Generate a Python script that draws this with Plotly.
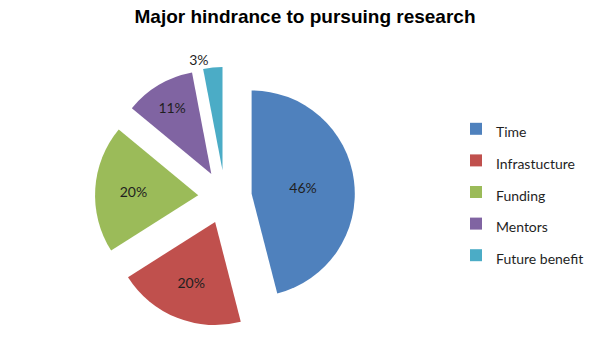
import plotly.graph_objects as go

categories = ["Time", "Infrastucture", "Funding", "Mentors", "Future benefit"]
values = [46, 20, 20, 11, 3]
colors = ["#4F81BD", "#C0504D", "#9BBB59", "#8064A2", "#4BACC6"]
pulls = [0.26, 0.26, 0.26, 0.26, 0.26]
text_positions = ["inside", "inside", "inside", "inside", "outside"]

W, H = 600, 359
T = 40  # top margin reserved for the title
PH = H - T
cx, cy, half = 217, 189, 130

legend_labels = [f"<span style='font-size:14px'>{c}</span>" for c in categories]

fig = go.Figure(go.Pie(
    labels=legend_labels,
    values=values,
    sort=False,
    direction="clockwise",
    rotation=0,
    pull=pulls,
    marker=dict(colors=colors, line=dict(width=0)),
    texttemplate="%{percent:.0%}",
    textposition=text_positions,
    insidetextorientation="horizontal",
    textfont=dict(family="Lato, Open Sans, sans-serif", size=14, color="#1F1F1F"),
    domain=dict(x=[(cx - half) / W, (cx + half) / W],
                y=[1 - (cy + half - T) / PH, 1 - (cy - half - T) / PH]),
    hoverinfo="label+percent",
))

fig.update_layout(
    width=W, height=H,
    margin=dict(l=0, r=0, t=T, b=0, autoexpand=False),
    paper_bgcolor="white",
    plot_bgcolor="white",
    title=dict(text="<b>Major hindrance to pursuing research</b>",
               x=297 / W, xanchor="center", y=1, yanchor="top",
               pad=dict(t=2),
               font=dict(family="Liberation Sans, Arial, sans-serif", size=19, color="#000000")),
    legend=dict(x=448 / W, xanchor="left", y=1 - (100 - T) / PH, yanchor="top",
                font=dict(family="Lato, Open Sans, sans-serif", size=22, color="#1F1F1F"),
                itemwidth=30, bgcolor="rgba(0,0,0,0)"),
    showlegend=True,
)

fig.write_html("out.html")
